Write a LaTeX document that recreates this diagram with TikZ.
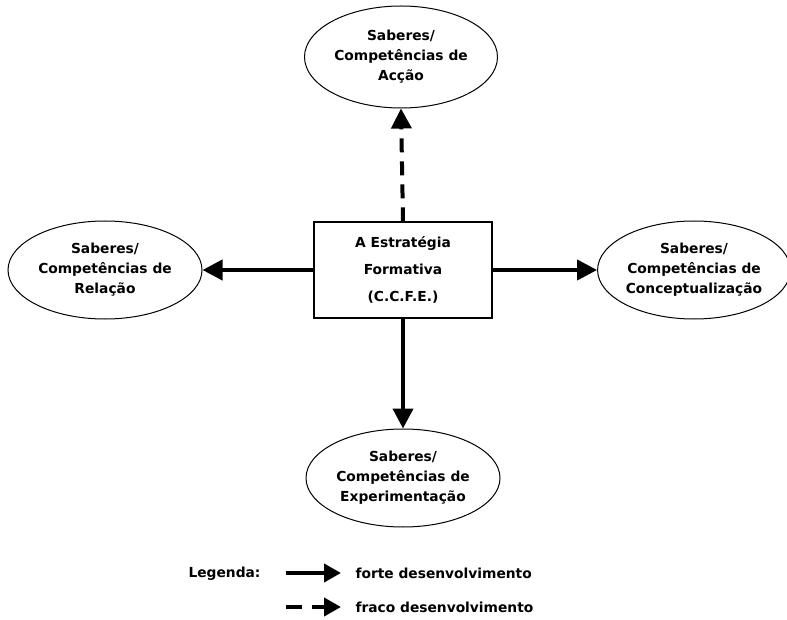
\documentclass[tikz,border=0pt]{standalone}
\usepackage{fontspec}
\setmainfont{DejaVu Sans}[BoldFont={DejaVu Sans Bold}]
\usetikzlibrary{shapes.geometric,arrows.meta}
\begin{document}
\begin{tikzpicture}[x=1pt,y=-1pt,
  every node/.style={font=\bfseries\fontsize{13.8}{20}\selectfont, align=center},
  ell/.style={draw, line width=1pt, ellipse, inner sep=0pt},
  boxst/.style={draw, line width=1.2pt, rectangle, minimum width=178pt, minimum height=96pt, inner sep=0pt, font=\bfseries\fontsize{13.8}{27}\selectfont},
  conn/.style={line width=4pt, -{Triangle[length=20pt,width=20pt]}},
  legarrow/.style={line width=4pt, -{Triangle[length=17pt,width=18pt]}},
  legtxt/.style={font=\bfseries\fontsize{13.8}{16}\selectfont, anchor=west}]
\useasboundingbox (0,0) rectangle (787,620);
\node[boxst] (box) at (403,270) {A Estratégia\\Formativa\\(C.C.F.E.)};
\node[ell, minimum width=193pt, minimum height=102pt] (top) at (401,57) {Saberes/\\Competências de\\Acção};
\node[ell, minimum width=194pt, minimum height=98pt] (left) at (105,270) {Saberes/\\Competências de\\Relação};
\node[ell, minimum width=184pt, minimum height=98pt] (right) at (694,270) {Saberes/\\Competências de\\Conceptualização};
\node[ell, minimum width=194pt, minimum height=98pt] (bot) at (403,478) {Saberes/\\Competências de\\Experimentação};
\draw[conn, dash pattern=on 14pt off 9pt] (box.north) -- (top.south);
\draw[conn] (box.west) -- (left.east);
\draw[conn] (box.east) -- (right.west);
\draw[conn] (box.south) -- (bot.north);
% legend
\node[legtxt, anchor=east] (leg) at (264,574) {Legenda:};
\coordinate (l1a) at (286,573);
\coordinate (l1b) at (341,573);
\node[legtxt] (t1) at (352,573) {forte desenvolvimento};
\coordinate (l2a) at (286,607);
\coordinate (l2b) at (341,607);
\node[legtxt] (t2) at (352,607) {fraco desenvolvimento};
\draw[legarrow] (l1a) -- (l1b);
\draw[legarrow, dash pattern=on 16pt off 10pt] (l2a) -- (l2b);
\end{tikzpicture}
\end{document}
